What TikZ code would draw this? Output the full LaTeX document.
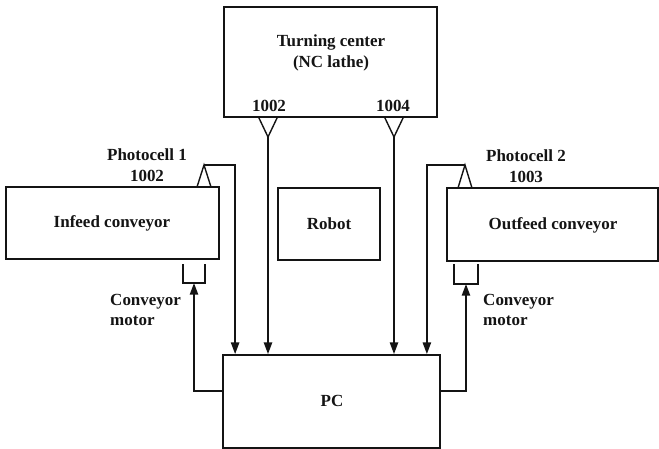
\documentclass[tikz,border=0pt]{standalone}
\usepackage{fontspec}
\setmainfont{Liberation Serif}
\usepackage{tikz}
\usetikzlibrary{arrows.meta, positioning, calc}
\definecolor{mydark}{RGB}{20,20,20}
\tikzset{
  block/.style={rectangle, draw=mydark, line width=1.5pt, inner sep=0pt},
  lbl/.style={font=\fontsize{14.5}{17.5}\selectfont\bfseries, align=center,
    text=mydark, inner sep=0pt},
  arrow/.style={-{Triangle[length=10pt, width=7pt]}, line width=1.6pt, color=mydark},
  line/.style={line width=1.5pt, color=mydark},
  sensor/.style={line width=1.2pt, color=mydark, line join=miter}
}

\begin{document}
\begin{tikzpicture}[x=0.03cm, y=-0.03cm]
  \useasboundingbox (0,0) rectangle (659,449);

  % Turning center (top)
  \node[block, minimum width=6.39cm, minimum height=3.3cm] (tc) at (330.5,62) {};
  \node[lbl] (tctext) at (331,53) {Turning center\\(NC lathe)};
  \node[lbl] (tc1) at (269,106) {1002};
  \node[lbl] (tc2) at (393,106) {1004};

  % Conveyors and robot
  \node[block, minimum width=6.39cm, minimum height=2.16cm] (infeed) at (112.5,223) {};
  \node[lbl] (intext) at (112,223) {Infeed conveyor};
  \node[block, minimum width=3.06cm, minimum height=2.16cm] (robot) at (329,224) {};
  \node[lbl] (robtext) at (329,224) {Robot};
  \node[block, minimum width=6.33cm, minimum height=2.19cm] (outfeed) at (552.5,224.5) {};
  \node[lbl] (outtext) at (553,225) {Outfeed conveyor};

  % PC (bottom)
  \node[block, minimum width=6.51cm, minimum height=2.79cm] (pc) at (331.5,401.5) {};
  \node[lbl] (pctext) at (332,401) {PC};

  % Sensors on the lathe
  \coordinate (s1) at (268,137);
  \coordinate (s2) at (394,137);
  \draw[sensor] (s1) -- ++(-9.5,-20) -- ++(19,0) -- cycle;
  \draw[sensor] (s2) -- ++(-9.5,-20) -- ++(19,0) -- cycle;
  \draw[arrow] (s1) -- (s1 |- pc.north);
  \draw[arrow] (s2) -- (s2 |- pc.north);

  % Photocells
  \coordinate (p1) at (204,165);
  \coordinate (p2) at (465,165);
  \draw[sensor] (p1) -- ++(-7,22) -- ++(14,0) -- cycle;
  \draw[sensor] (p2) -- ++(-7,23) -- ++(14,0) -- cycle;
  \node[lbl] (ph1) at (147,165) {Photocell 1\\1002};
  \node[lbl] (ph2) at (526,166) {Photocell 2\\1003};
  \draw[arrow] (p1) -| ($(pc.north west)+(13,0)$);
  \draw[arrow] (p2) -| ($(pc.north east)+(-14,0)$);

  % Conveyor motors
  \coordinate (m1) at (194,283);
  \coordinate (m2) at (466,284);
  \draw[line] ($(m1)+(-11,-19)$) |- ($(m1)+(11,0)$) -- ++(0,-19);
  \draw[line] ($(m2)+(-12,-20)$) |- ($(m2)+(12,0)$) -- ++(0,-20);
  \draw[arrow] ($(pc.west)+(0,-10.5)$) -| (m1);
  \draw[arrow] ($(pc.east)+(0,-10.5)$) -| (m2);
  \node[lbl, align=left, anchor=west] (mot1) at (110,310) {Conveyor\\motor};
  \node[lbl, align=left, anchor=west] (mot2) at (483,310) {Conveyor\\motor};
\end{tikzpicture}
\end{document}
